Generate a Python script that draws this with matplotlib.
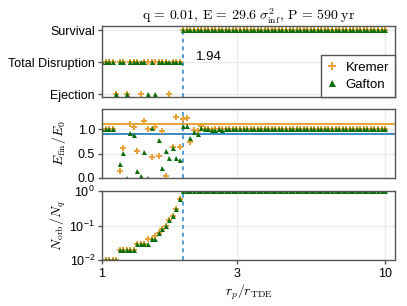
import numpy as np
import matplotlib
matplotlib.use("Agg")
import matplotlib.pyplot as plt

plt.rcParams['font.family'] = ['Liberation Sans', 'DejaVu Sans']
plt.rcParams['mathtext.fontset'] = 'cm'

# pericentre grid (r_p / r_TDE), log spaced 1..10
rp = np.logspace(0, 1, 81)
r_crit = 1.94
n_right = 58

# outcome: 0 = Ejection, 1 = Total Disruption, 2 = Survival
outcome_labels = ["Ejection", "Total Disruption", "Survival"]
kremer_outcome = [1, 1, 1, 1, 0, 1, 1, 0, 1, 1, 1, 0, 1, 1, 1, 1, 1, 1, 1, 0, 1, 1, 1] + [2] * n_right
gafton_outcome = [1, 1, 1, 1, 0, 1, 1, 0, 1, 1, 1, 1, 1, 0, 1, 0, 1, 1, 1, 1, 1, 1, 1] + [2] * n_right

# final / initial orbital energy
kremer_E = ([0.98, 1.0, 1.0, 1.0, np.nan, 0.14, 0.61, np.nan, 1.10, 1.05, 0.55, np.nan,
             1.16, 1.01, 0.43, 1.04, 0.45, 0.97, 0.04, np.nan, 0.63, 1.24, 0.64]
            + [1.21, 1.22, 0.74, 0.98, 0.96, 1.06, 1.0, 1.0, 0.99, 1.0] + [1.0] * 48)
gafton_E = ([1.0, 1.0, 1.0, 1.0, np.nan, 0.29, 0.51, 0.0, 0.92, 0.88, 0.14, 0.05,
             0.54, 0.0, 1.03, np.nan, 0.78, 0.20, 0.55, 0.41, 0.62, 0.41, 0.36]
            + [1.06, 1.06, 0.82, 0.95, 0.89, 1.03, 1.0, 1.0, 0.99, 0.99, 1.0, 0.99] + [1.0] * 46)

# fraction of particles still bound
kremer_N = ([0.01] * 5 + [0.02] * 5 + [0.03] * 3 + [0.04, 0.04, 0.05]
            + [0.06, 0.08, 0.10, 0.14, 0.19, 0.31, 0.60] + [1.0] * n_right)
gafton_N = ([0.01] * 5 + [0.02] * 5 + [0.03] * 4 + [0.04] * 2
            + [0.06, 0.08, 0.10, 0.14, 0.19, 0.31, 0.60] + [1.0] * n_right)

orange = '#E8A33A'
green = '#0A6E0A'
blue = '#4F9ED3'
spine_c = '#555555'
grid_c = '#EBEBEB'

fig = plt.figure(figsize=(4.07, 3.06), dpi=100)
left, width = 102 / 407, 293 / 407
ax1 = fig.add_axes([left, 1 - 97 / 306, width, 71 / 306])
ax2 = fig.add_axes([left, 1 - 178 / 306, width, 69 / 306])
ax3 = fig.add_axes([left, 1 - 260 / 306, width, 69 / 306])

k_style = dict(marker='P', ms=4.2, color=orange, mew=0, ls='none')
g_style = dict(marker='^', ms=3.6, color=green, mew=0, ls='none')

for ax in (ax1, ax2, ax3):
    ax.set_xscale('log')
    ax.set_xlim(1, 10.84)
    ax.set_xticks([1, 3, 10])
    ax.xaxis.set_minor_locator(matplotlib.ticker.NullLocator())
    ax.grid(True, color=grid_c, lw=1, zorder=0)
    ax.set_axisbelow(True)
    for s in ax.spines.values():
        s.set_color(spine_c)
        s.set_linewidth(1.0)
    ax.tick_params(axis='y', direction='out', length=3, width=1, color=spine_c,
                   labelsize=9, pad=2)
    ax.axvline(r_crit, color=blue, ls=(0, (2, 2)), lw=1.4, zorder=1)

ax1.tick_params(axis='x', bottom=False, labelbottom=False)
ax2.tick_params(axis='x', bottom=False, labelbottom=False)
ax3.tick_params(axis='x', direction='out', length=3, width=1, color=spine_c,
                labelsize=9, pad=3)
ax3.set_xticklabels(['1', '3', '10'])

# top panel: outcome
ax1.plot(rp, kremer_outcome, label='Kremer', **k_style)
ax1.plot(rp, gafton_outcome, label='Gafton', **g_style)
ax1.set_ylim(-0.09, 2.125)
ax1.set_yticks([0, 1, 2])
ax1.set_yticklabels(outcome_labels)
ax1.text(2.15, 1.15, f'{r_crit:.2f}', fontsize=9.5, va='center', ha='left')
ax1.set_title(r'$\mathrm{q}\,=\,0.01,\,\mathrm{E}\,=\,29.6\;\sigma_{\rm inf}^{2},\,\mathrm{P}\,=\,590\;\mathrm{yr}$',
              fontsize=10, pad=3)
leg = ax1.legend(loc='lower right', borderaxespad=0, fontsize=9.5, handletextpad=0.6,
                 markerscale=1.4, handlelength=0.8, borderpad=0.45, labelspacing=0.4,
                 fancybox=False, framealpha=1)
leg.get_frame().set_edgecolor(spine_c)
leg.get_frame().set_linewidth(1.0)

# middle panel: energy ratio
ax2.axhline(1.1, color=orange, lw=1.4, zorder=1.5)
ax2.axhline(0.9, color='#3A8AC4', lw=1.4, zorder=1.5)
ax2.plot(rp, kremer_E, **k_style)
ax2.plot(rp, gafton_E, **g_style)
ax2.set_ylim(0, 1.41)
ax2.set_yticks([0.0, 0.5, 1.0])
ax2.set_yticklabels(['0.0', '0.5', '1.0'])
ax2.set_ylabel(r'$E_{\rm fin}/E_0$', fontsize=10)
ax2.yaxis.set_label_coords(-0.116, 0.5)

# bottom panel: bound fraction
ax3.plot(rp, kremer_N, **k_style)
ax3.plot(rp, gafton_N, **g_style)
ax3.set_yscale('log')
ax3.set_ylim(0.01, 1)
ax3.yaxis.set_minor_locator(matplotlib.ticker.NullLocator())
ax3.set_ylabel(r'$N_{\rm orb}/N_q$', fontsize=10)
ax3.yaxis.set_label_coords(-0.116, 0.5)
ax3.set_xlabel(r'$r_p/r_{\rm TDE}$', fontsize=10, labelpad=2)

fig.savefig('out.png', dpi=100)
